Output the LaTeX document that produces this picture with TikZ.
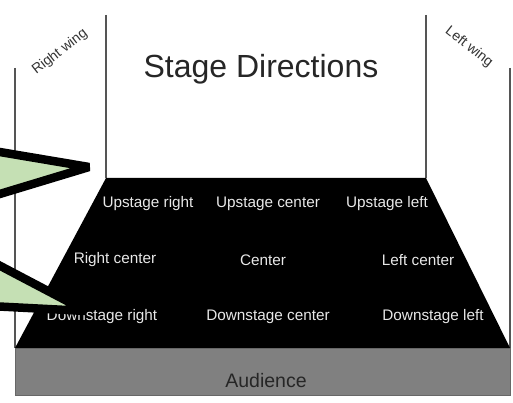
\documentclass[tikz,border=0pt]{standalone}
\usepackage{fontspec}
\setmainfont{Liberation Sans}
\definecolor{calloutgreen}{HTML}{C5E0B4}
\definecolor{wingline}{HTML}{555555}
\definecolor{audgray}{HTML}{808080}
\definecolor{stagetext}{HTML}{E8E8E8}
\begin{document}
\begin{tikzpicture}[x=1pt,y=-1pt,
  wing/.style={draw=wingline,line width=1.6pt},
  posl/.style={text=stagetext,font=\fontsize{15.3}{17}\selectfont,inner sep=0pt},
  winglbl/.style={text=black!80,font=\fontsize{14}{16}\selectfont,inner sep=0pt},
  callout/.style={draw=black,fill=calloutgreen,line width=8.5pt,line join=miter,miter limit=3}]
\useasboundingbox (0,0) rectangle (513,403);
\fill[white] (0,0) rectangle (513,403);
% wings
\coordinate (rwtop) at (15,68);
\coordinate (rwbot) at (15,348);
\coordinate (iltop) at (106,15);
\coordinate (ilbot) at (106,178);
\coordinate (irtop) at (426,15);
\coordinate (irbot) at (426,178);
\coordinate (lwtop) at (510,68);
\coordinate (lwbot) at (510,348);
\draw[wing] (rwtop) -- (rwbot);
\draw[wing] (iltop) -- (ilbot);
\draw[wing] (irtop) -- (irbot);
\draw[wing] (lwtop) -- (lwbot);
% stage
\fill[black] (ilbot) -- (irbot) -- (lwbot) -- (rwbot) -- cycle;
\fill[audgray] (15,348) rectangle (510,395);
\draw[audgray!80!black,line width=0.8pt] (15,348) rectangle (510,395);
% labels
\node[font=\fontsize{32}{35}\selectfont,text=black!85] (title) at (261,69) {Stage Directions};
\node[winglbl,rotate=38] (rwing) at (60,52) {Right wing};
\node[winglbl,rotate=-38] (lwing) at (469,47) {Left wing};
\node[posl] (ur) at (148,204) {Upstage right};
\node[posl] (uc) at (268,204) {Upstage center};
\node[posl] (ul) at (387,204) {Upstage left};
\node[posl] (rc) at (115,260) {Right center};
\node[posl] (c) at (263,260) {Center};
\node[posl] (lc) at (418,260) {Left center};
\node[posl] (dr) at (102,317) {Downstage right};
\node[posl] (dc) at (268,317) {Downstage center};
\node[posl] (dl) at (433,317) {Downstage left};
\node[font=\fontsize{19.5}{22}\selectfont,text=black!85,inner sep=0pt] (aud) at (266,381) {Audience};
% callouts
\draw[callout] (-30,147) -- (89,167) -- (-30,203) -- cycle;
\draw[callout] (-30,250) -- (86,311) -- (-30,305) -- cycle;
\end{tikzpicture}
\end{document}
